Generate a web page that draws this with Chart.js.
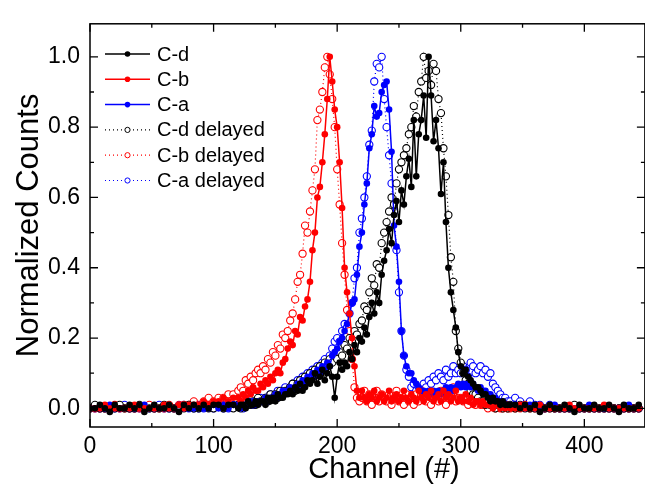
<!DOCTYPE html>
<html>
<head>
<meta charset="utf-8">
<script src="https://cdn.jsdelivr.net/npm/chart.js@4.4.1/dist/chart.umd.min.js"></script>
<style>
  html, body { margin: 0; padding: 0; background: #fff; overflow: hidden; }
  #chart { display: block; }
</style>
</head>
<body>
<canvas id="chart" width="650" height="492" style="width:650px;height:492px"></canvas>
<script>
// channel numbers (x) shared by every series
const channels = [
  0,4,8,12,16,20,24,28,32,36,40,44,48,52,56,60,64,68,72,76,80,84,88,92,96,100,104,108,112,116,
  120,122,124,126,128,130,132,134,136,138,
  140,142,144,146,148,150,152,154,156,158,
  160,162,164,166,168,170,172,174,176,178,
  180,182,184,186,188,190,192,194,196,198,
  200,202,204,206,208,210,212,214,216,218,
  220,222,224,226,228,230,232,234,236,238,
  240,242,244,246,248,250,252,254,256,258,
  260,262,264,266,268,270,272,274,276,278,
  280,282,284,286,288,290,292,294,296,298,
  300,302,304,306,308,310,312,314,316,318,
  320,322,324,326,328,330,332,334,336,338,
  340,
  344,348,352,356,360,364,368,372,376,380,384,388,392,396,400,404,408,412,416,420,424,428,432,436,440,444
];

const cd = [
  0.00,0.00,0.01,0.00,-0.01,0.01,0.00,0.00,0.01,0.00,0.01,-0.01,0.00,0.01,0.00,0.00,0.01,0.00,-0.01,0.01,0.00,0.01,0.00,0.01,0.00,0.01,0.01,0.00,0.01,0.01,
  0.00,0.01,0.01,0.00,0.02,0.01,0.01,0.02,0.01,0.02,
  0.02,0.01,0.03,0.02,0.03,0.02,0.04,0.03,0.03,0.04,
  0.04,0.05,0.04,0.06,0.05,0.07,0.05,0.06,0.08,0.07,
  0.08,0.10,0.07,0.09,0.11,0.08,0.10,0.12,0.09,0.03,
  0.09,0.13,0.11,0.13,0.12,0.16,0.14,0.18,0.16,0.20,
  0.19,0.23,0.21,0.26,0.30,0.27,0.33,0.30,0.38,0.42,
  0.45,0.51,0.47,0.55,0.59,0.53,0.62,0.58,0.66,0.71,
  0.63,0.82,0.66,0.78,0.82,0.89,0.77,1.00,0.89,0.76,
  0.82,0.74,0.61,0.70,0.53,0.40,0.33,0.28,0.23,0.16,
  0.12,0.10,0.11,0.09,0.08,0.07,0.06,0.06,0.05,0.04,
  0.04,0.03,0.02,0.03,0.02,0.02,0.01,0.02,0.01,0.01,
  0.01,
  0.01,0.00,0.01,0.00,0.01,-0.01,0.00,0.01,0.00,0.00,0.01,0.00,-0.01,0.01,0.00,0.00,0.01,0.00,0.00,0.01,0.00,-0.01,0.01,0.00,0.00,0.01
];

const cb = [
  0,0,0,0.01,0,0,0,0,0,0.01,0,0,0,0,0,0.01,0,0,0.01,0,0.01,0.01,0.01,0.02,0.01,0.02,0.02,0.03,0.02,0.03,
  0.03,0.02,0.04,0.03,0.05,0.04,0.06,0.05,0.05,0.07,
  0.06,0.08,0.07,0.09,0.08,0.10,0.11,0.10,0.13,0.14,
  0.17,0.19,0.18,0.22,0.21,0.26,0.25,0.29,0.31,0.36,
  0.45,0.50,0.60,0.63,0.70,0.78,0.88,1.00,0.93,0.85,
  0.80,0.70,0.57,0.40,0.33,0.27,0.20,0.12,0.05,0.03,
  0.05,0.03,0.02,0.04,0.03,0.05,0.02,0.03,0.04,0.02,
  0.03,0.05,0.02,0.03,0.04,0.02,0.03,0.05,0.03,0.02,
  0.04,0.03,0.02,0.05,0.03,0.02,0.04,0.03,0.05,0.02,
  0.03,0.04,0.02,0.05,0.03,0.04,0.02,0.03,0.05,0.02,
  0.03,0.02,0.04,0.02,0.03,0.01,0.02,0.02,0.01,0.02,
  0.01,0.01,0.02,0.00,0.01,0.01,0.00,0.01,0.00,0.01,
  0.00,
  0,0.01,0,0,0,0.01,0,0,0,0,0,0.01,0,0,0,0,0,0,0.01,0,0,0,0,0,0,0
];

const ca = [
  0,0,0,0,0.01,0,0,0,0,0,0,0.01,0,0,0,0,0,0,0.01,0,0,0,0.01,0,0,0.01,0,0.01,0,0.01,
  0.01,0.00,0.01,0.01,0.02,0.01,0.02,0.01,0.02,0.02,
  0.02,0.03,0.02,0.03,0.03,0.04,0.03,0.04,0.05,0.04,
  0.05,0.06,0.05,0.06,0.07,0.06,0.08,0.07,0.09,0.08,
  0.10,0.09,0.11,0.10,0.12,0.11,0.13,0.12,0.15,0.16,
  0.17,0.19,0.20,0.22,0.24,0.27,0.30,0.31,0.38,0.46,
  0.50,0.58,0.64,0.74,0.78,0.86,0.83,0.84,0.90,0.92,
  0.93,0.85,0.73,0.52,0.46,0.36,0.22,0.15,0.12,0.10,
  0.10,0.08,0.07,0.06,0.05,0.05,0.04,0.05,0.04,0.05,
  0.04,0.05,0.04,0.05,0.06,0.05,0.06,0.05,0.06,0.07,
  0.06,0.07,0.06,0.07,0.06,0.07,0.06,0.05,0.06,0.05,
  0.05,0.04,0.04,0.03,0.03,0.02,0.02,0.02,0.01,0.01,
  0.01,
  0.01,0.01,0,0.01,0,0,0,0,0.01,0,0,0,0,0,0,0.01,0,0,0,0,0,0,0,0.01,0,0
];

const cdDelayed = [
  0,0.01,0,0,0,0,0.01,0,0,0,0.01,0,0,0,0,0.01,0,0,0,0,0.01,0,0,0.01,0,0,0.01,0,0.01,0,
  0.01,0.00,0.01,0.02,0.01,0.01,0.02,0.01,0.03,0.02,
  0.02,0.03,0.02,0.04,0.03,0.04,0.03,0.05,0.04,0.05,
  0.05,0.06,0.07,0.05,0.07,0.08,0.06,0.09,0.08,0.10,
  0.09,0.11,0.10,0.12,0.11,0.13,0.12,0.14,0.13,0.15,
  0.14,0.16,0.15,0.18,0.17,0.20,0.19,0.22,0.21,0.24,
  0.25,0.29,0.28,0.33,0.37,0.35,0.41,0.40,0.47,0.50,
  0.53,0.56,0.60,0.58,0.64,0.68,0.70,0.72,0.74,0.78,
  0.80,0.86,0.83,0.90,0.93,1.00,0.94,0.96,0.92,0.98,
  0.96,0.88,0.84,0.74,0.66,0.55,0.43,0.36,0.22,0.17,
  0.13,0.10,0.08,0.07,0.05,0.04,0.04,0.03,0.02,0.02,
  0.01,0.02,0.01,0.01,0.00,0.01,0.01,0.00,0.01,0.00,
  0.01,
  0.00,0.01,0,0,0,0,0,0,0,0,0,0,0.01,0,0,0,0,0,0,0,0,0,0,0,0,0
];

const cbDelayed = [
  0,0,0,0,0,0.01,0,0,0,0,0,0,0.01,0,0,0,0.01,0,0.01,0.01,0.01,0.02,0.01,0.02,0.03,0.02,0.03,0.03,0.04,0.04,
  0.05,0.06,0.05,0.08,0.07,0.09,0.08,0.10,0.11,0.10,
  0.12,0.11,0.14,0.13,0.16,0.15,0.18,0.17,0.21,0.20,
  0.22,0.25,0.27,0.31,0.36,0.38,0.44,0.52,0.50,0.56,
  0.62,0.68,0.82,0.85,0.90,0.97,1.00,0.95,0.88,0.80,
  0.68,0.58,0.47,0.38,0.28,0.22,0.14,0.06,0.03,0.02,
  0.03,0.05,0.02,0.04,0.01,0.03,0.05,0.02,0.04,0.03,
  0.02,0.04,0.01,0.03,0.05,0.02,0.03,0.01,0.04,0.02,
  0.03,0.01,0.04,0.02,0.05,0.03,0.02,0.04,0.01,0.03,
  0.04,0.02,0.05,0.03,0.01,0.04,0.03,0.06,0.02,0.03,
  0.03,0.02,0.03,0.01,0.02,0.02,0.01,0.02,0.01,0.01,
  0.01,0.00,0.01,0.01,0.00,0.01,0.00,0.00,0.01,0.00,
  0.00,
  0,0,0.01,0,0,0,0,0,0,0,0,0,0,0,0,0,0,0,0,0,0,0,0,0,0,0
];

const caDelayed = [
  0,0,0,0,0,0,0,0.01,0,0,0,0,0,0,0.01,0,0,0,0,0.01,0,0,0,0,0.01,0,0.01,0,0,0.01,
  0.01,0.01,0.00,0.01,0.02,0.01,0.01,0.02,0.02,0.03,
  0.02,0.03,0.03,0.04,0.03,0.04,0.05,0.04,0.05,0.06,
  0.05,0.06,0.07,0.06,0.08,0.07,0.09,0.08,0.10,0.09,
  0.11,0.10,0.12,0.11,0.13,0.14,0.13,0.15,0.17,0.19,
  0.20,0.19,0.22,0.24,0.23,0.27,0.30,0.37,0.40,0.50,
  0.54,0.60,0.66,0.75,0.79,0.93,0.98,0.97,1.00,0.88,
  0.80,0.72,0.64,0.56,0.45,0.33,0.22,0.15,0.11,0.09,
  0.06,0.07,0.05,0.06,0.05,0.07,0.06,0.08,0.07,0.09,
  0.08,0.10,0.09,0.08,0.11,0.09,0.10,0.12,0.10,0.11,
  0.10,0.12,0.11,0.09,0.13,0.12,0.10,0.11,0.12,0.10,
  0.11,0.09,0.10,0.07,0.06,0.05,0.04,0.03,0.03,0.02,
  0.02,
  0.03,0.02,0.01,0.02,0.01,0.01,0,0.01,0,0,0,0,0,0,0,0,0,0,0,0,0,0,0,0,0,0
];

const seriesNames = ["C-d", "C-b", "C-a", "C-d delayed", "C-b delayed", "C-a delayed"];
const seriesValues = [cd, cb, ca, cdDelayed, cbDelayed, caDelayed];
const seriesColors = ["#000000", "#ff0000", "#0000ff", "#000000", "#ff0000", "#0000ff"];
const seriesOpen = [false, false, false, true, true, true];

const xTicks = [0, 100, 200, 300, 400];
const yTicks = [0.0, 0.2, 0.4, 0.6, 0.8, 1.0];
const xTitle = "Channel (#)";
const yTitle = "Normalized Counts";

seriesValues.forEach((vals, i) => {
  if (vals.length !== channels.length) {
    throw new Error(seriesNames[i] + " has " + vals.length + " values, expected " + channels.length);
  }
});

const FONT = "'Liberation Sans', Arial, sans-serif";

const datasets = seriesValues.map((vals, i) => {
  const color = seriesColors[i];
  const open = seriesOpen[i];
  return {
    label: seriesNames[i],
    data: vals.map((v, k) => ({ x: channels[k], y: v })),
    borderColor: color,
    backgroundColor: color,
    borderWidth: open ? 1.2 : 1.5,
    borderDash: open ? [1, 3] : [],
    pointRadius: open ? 3.6 : 3.3,
    pointBorderWidth: open ? 1.1 : 0,
    pointBackgroundColor: open ? "#ffffff" : color,
    pointBorderColor: color,
    tension: 0,
  };
});

// frame with inward ticks on all four sides, plus the x title
const framePlugin = {
  id: "frame",
  afterDraw(chart) {
    const { ctx, chartArea: a, scales } = chart;
    const xs = scales.x, ys = scales.y;
    ctx.save();
    ctx.strokeStyle = "#000";
    ctx.lineWidth = 1.5;
    ctx.strokeRect(a.left, a.top, a.right - a.left, a.bottom - a.top);
    ctx.lineWidth = 1.3;
    ctx.beginPath();
    const xMinor = xTicks.map(t => t + 50).filter(t => t < xs.max);
    xTicks.forEach(t => {
      const p = xs.getPixelForValue(t);
      ctx.moveTo(p, a.bottom); ctx.lineTo(p, a.bottom - 8);
      ctx.moveTo(p, a.top); ctx.lineTo(p, a.top + 8);
    });
    xMinor.forEach(t => {
      const p = xs.getPixelForValue(t);
      ctx.moveTo(p, a.bottom); ctx.lineTo(p, a.bottom - 4);
      ctx.moveTo(p, a.top); ctx.lineTo(p, a.top + 4);
    });
    const yMinor = yTicks.slice(0, -1).map(t => t + 0.1);
    yTicks.forEach(t => {
      const p = ys.getPixelForValue(t);
      ctx.moveTo(a.left, p); ctx.lineTo(a.left + 8, p);
      ctx.moveTo(a.right, p); ctx.lineTo(a.right - 8, p);
    });
    yMinor.forEach(t => {
      const p = ys.getPixelForValue(t);
      ctx.moveTo(a.left, p); ctx.lineTo(a.left + 4, p);
      ctx.moveTo(a.right, p); ctx.lineTo(a.right - 4, p);
    });
    ctx.stroke();

    ctx.fillStyle = "#000";
    ctx.font = "29px " + FONT;
    ctx.textAlign = "center";
    ctx.textBaseline = "middle";
    ctx.fillText(xTitle, 384, 470);
    ctx.restore();
  }
};

// legend with line + marker samples, top left inside the plot
const legendPlugin = {
  id: "sampleLegend",
  afterDraw(chart) {
    const ctx = chart.ctx;
    ctx.save();
    ctx.font = "20px " + FONT;
    ctx.textBaseline = "middle";
    ctx.fillStyle = "#000";
    seriesNames.forEach((name, i) => {
      const y = 54 + i * 25.3;
      const color = seriesColors[i];
      ctx.strokeStyle = color;
      ctx.lineWidth = seriesOpen[i] ? 1.2 : 1.5;
      ctx.setLineDash(seriesOpen[i] ? [1, 3] : []);
      ctx.beginPath();
      ctx.moveTo(105, y); ctx.lineTo(150, y);
      ctx.stroke();
      ctx.setLineDash([]);
      ctx.beginPath();
      ctx.arc(127.5, y, seriesOpen[i] ? 2.6 : 2.8, 0, Math.PI * 2);
      if (seriesOpen[i]) {
        ctx.fillStyle = "#fff"; ctx.fill();
        ctx.lineWidth = 1; ctx.stroke();
      } else {
        ctx.fillStyle = color; ctx.fill();
      }
      ctx.fillStyle = "#000";
      ctx.fillText(name, 157, y + 1);
    });
    ctx.restore();
  }
};

new Chart(document.getElementById("chart"), {
  type: "line",
  data: { datasets },
  options: {
    responsive: false,
    animation: false,
    devicePixelRatio: 1,
    layout: { padding: { top: 14, right: 1, left: 0, bottom: 0 } },
    plugins: { legend: { display: false }, tooltip: { enabled: false } },
    scales: {
      x: {
        type: "linear",
        min: 0,
        max: 449,
        afterBuildTicks: s => { s.ticks = xTicks.map(v => ({ value: v })); },
        afterFit: s => { s.height = 65; },
        grid: { display: false, drawTicks: false },
        border: { display: false },
        ticks: { color: "#000", font: { size: 23, family: FONT }, padding: 6, maxRotation: 0, autoSkip: false },
        title: { display: false }
      },
      y: {
        type: "linear",
        min: -0.053,
        max: 1.094,
        afterBuildTicks: s => { s.ticks = yTicks.map(v => ({ value: v })); },
        afterFit: s => { s.width = 90; },
        grid: { display: false, drawTicks: false },
        border: { display: false },
        ticks: { color: "#000", font: { size: 23, family: FONT }, padding: 10, callback: v => v.toFixed(1) },
        title: { display: true, text: yTitle, color: "#000", font: { size: 31, family: FONT }, padding: { top: 11, bottom: 0 } }
      }
    }
  },
  plugins: [framePlugin, legendPlugin]
});
</script>
</body>
</html>
